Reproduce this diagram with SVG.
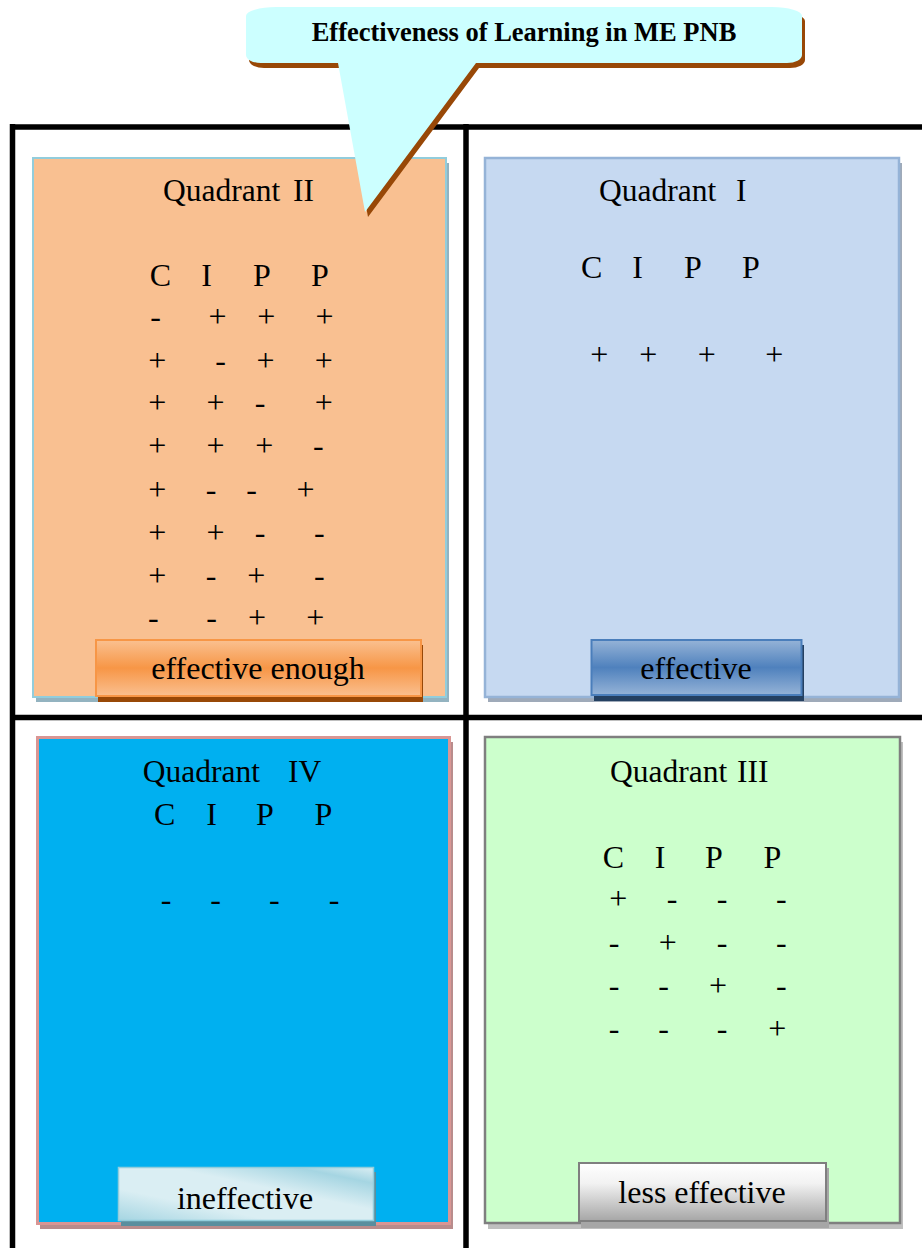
<svg xmlns="http://www.w3.org/2000/svg" width="922" height="1248" viewBox="0 0 922 1248">
<defs>
<style>
.t{font-family:"Liberation Serif","Times New Roman",serif;font-size:32px;fill:#000;}
.q{font-family:"Liberation Serif","Times New Roman",serif;font-size:31.5px;fill:#000;}
.m{text-anchor:middle;}
.title{font-family:"Liberation Serif","Times New Roman",serif;font-size:26.5px;font-weight:bold;fill:#000;text-anchor:middle;}
.grid{stroke:#000;stroke-width:5.5;fill:none;}
</style>
<linearGradient id="gOrange" x1="0" y1="0" x2="0" y2="1">
<stop offset="0" stop-color="#FAC090"/><stop offset="0.5" stop-color="#F79646"/><stop offset="1" stop-color="#FAC090"/>
</linearGradient>
<linearGradient id="gBlue" x1="0" y1="0" x2="0" y2="1">
<stop offset="0" stop-color="#95B3D7"/><stop offset="0.5" stop-color="#4F81BD"/><stop offset="1" stop-color="#95B3D7"/>
</linearGradient>
<linearGradient id="gCyan" x1="0" y1="1" x2="1" y2="0">
<stop offset="0" stop-color="#A5D5E2"/><stop offset="0.3" stop-color="#DAEEF3"/><stop offset="0.6" stop-color="#DAEEF3"/><stop offset="0.85" stop-color="#A5D5E2"/><stop offset="1" stop-color="#DAEEF3"/>
</linearGradient>
<linearGradient id="gGrey" x1="0" y1="0" x2="0" y2="1">
<stop offset="0" stop-color="#FFFFFF"/><stop offset="0.35" stop-color="#F2F2F2"/><stop offset="1" stop-color="#A6A6A6"/>
</linearGradient>
</defs>
<rect width="922" height="1248" fill="#fff"/>

<g id="grid">
<line class="grid" x1="10" y1="127" x2="922" y2="127"/>
<line class="grid" x1="12.5" y1="124" x2="12.5" y2="1248"/>
<line class="grid" x1="466" y1="124" x2="466" y2="1248"/>
<line class="grid" x1="10" y1="717.5" x2="922" y2="717.5" stroke-width="6"/>
</g>

<g id="connectors"></g>

<g id="q2">
<rect x="36" y="163" width="413" height="539" fill="#93B3C0"/>
<rect x="33" y="158" width="413" height="539" fill="#F9C091" stroke="#92CDDC" stroke-width="2"/>
<text class="q" x="163" y="201">Quadrant<tspan x="293">II</tspan></text>
<text class="t m" y="286"><tspan x="160.5">C</tspan><tspan x="206.5">I</tspan><tspan x="262">P</tspan><tspan x="320">P</tspan></text>
<text class="t m" y="327"><tspan x="155.7">-</tspan><tspan x="217.5">+</tspan><tspan x="266.3">+</tspan><tspan x="324.5">+</tspan></text>
<text class="t m" y="371"><tspan x="157.2">+</tspan><tspan x="220.5">-</tspan><tspan x="265.5">+</tspan><tspan x="323.8">+</tspan></text>
<text class="t m" y="413"><tspan x="157.2">+</tspan><tspan x="215.5">+</tspan><tspan x="260">-</tspan><tspan x="323.8">+</tspan></text>
<text class="t m" y="456"><tspan x="157.2">+</tspan><tspan x="215.5">+</tspan><tspan x="264.2">+</tspan><tspan x="318.3">-</tspan></text>
<text class="t m" y="500"><tspan x="157.2">+</tspan><tspan x="211">-</tspan><tspan x="251.7">-</tspan><tspan x="305.5">+</tspan></text>
<text class="t m" y="543"><tspan x="157.2">+</tspan><tspan x="215.5">+</tspan><tspan x="260">-</tspan><tspan x="319.3">-</tspan></text>
<text class="t m" y="586"><tspan x="157.2">+</tspan><tspan x="211">-</tspan><tspan x="256.3">+</tspan><tspan x="319.3">-</tspan></text>
<text class="t m" y="628"><tspan x="153.3">-</tspan><tspan x="211.7">-</tspan><tspan x="257">+</tspan><tspan x="315.3">+</tspan></text>
</g>

<g id="label-effective-enough">
<rect x="98" y="645" width="325" height="57" fill="#984807"/>
<rect x="96" y="640" width="325" height="56" fill="url(#gOrange)" stroke="#F79646" stroke-width="2"/>
<text class="t m" x="258" y="679">effective enough</text>
</g>

<g id="q1">
<rect x="488" y="163" width="414" height="539" fill="#9FAAB9"/>
<rect x="485" y="158" width="414" height="539" fill="#C6D9F1" stroke="#95B3D7" stroke-width="2.5"/>
<text class="q" x="599" y="201">Quadrant<tspan x="736">I</tspan></text>
<text class="t m" y="278"><tspan x="591.7">C</tspan><tspan x="637.5">I</tspan><tspan x="693">P</tspan><tspan x="751">P</tspan></text>
<text class="t m" y="365"><tspan x="599.3">+</tspan><tspan x="648.3">+</tspan><tspan x="706.7">+</tspan><tspan x="774.3">+</tspan></text>
</g>

<g id="label-effective">
<rect x="594" y="645" width="210" height="56" fill="#244061"/>
<rect x="591.5" y="640" width="210" height="55" fill="url(#gBlue)" stroke="#4A7EBB" stroke-width="2"/>
<text class="t m" x="696" y="679">effective</text>
</g>

<g id="q4">
<rect x="40" y="742" width="413" height="487" fill="#B98C8C"/>
<rect x="37.5" y="737.5" width="412" height="486" fill="#00B0F0" stroke="#D99694" stroke-width="3"/>
<text class="q" x="142.7" y="782">Quadrant<tspan x="288">IV</tspan></text>
<text class="t m" y="825"><tspan x="164.7">C</tspan><tspan x="211.7">I</tspan><tspan x="265">P</tspan><tspan x="323.3">P</tspan></text>
<text class="t m" y="910"><tspan x="166">-</tspan><tspan x="215.7">-</tspan><tspan x="274.3">-</tspan><tspan x="334">-</tspan></text>
</g>

<g id="label-ineffective">
<rect x="121" y="1172" width="255" height="54" fill="#5A8E9E"/>
<rect x="118.5" y="1167.5" width="255" height="53" fill="url(#gCyan)" stroke="#92CDDC" stroke-width="1.5"/>
<text class="t m" x="245" y="1209">ineffective</text>
</g>

<g id="q3">
<rect x="488" y="742" width="415" height="487" fill="#BFBFBF"/>
<rect x="485" y="737" width="415" height="486" fill="#CCFFCC" stroke="#7F7F7F" stroke-width="2.5"/>
<text class="q" x="610" y="782">Quadrant<tspan x="737">III</tspan></text>
<text class="t m" y="868"><tspan x="613.3">C</tspan><tspan x="660">I</tspan><tspan x="714">P</tspan><tspan x="772.3">P</tspan></text>
<text class="t m" y="909"><tspan x="618.3">+</tspan><tspan x="672.2">-</tspan><tspan x="722">-</tspan><tspan x="781.3">-</tspan></text>
<text class="t m" y="953"><tspan x="614">-</tspan><tspan x="667.8">+</tspan><tspan x="722">-</tspan><tspan x="781.3">-</tspan></text>
<text class="t m" y="996"><tspan x="614">-</tspan><tspan x="663.7">-</tspan><tspan x="718">+</tspan><tspan x="781.3">-</tspan></text>
<text class="t m" y="1039"><tspan x="614">-</tspan><tspan x="663.7">-</tspan><tspan x="722">-</tspan><tspan x="777.2">+</tspan></text>
</g>

<g id="label-less-effective">
<rect x="581" y="1168" width="248" height="60" fill="#A6A6A6"/>
<rect x="579" y="1163" width="247" height="58" fill="url(#gGrey)" stroke="#7F7F7F" stroke-width="2"/>
<text class="t m" x="702" y="1203">less effective</text>
</g>

<g id="callout">
<path d="M276,7 L772,7 A30,9 0 0 1 802,16 L802,55 A15,8 0 0 1 787,63 L476,63 L365,212 L338,63 L261,63 A15,8 0 0 1 246,55 L246,16 A30,9 0 0 1 276,7 Z" fill="#984807" transform="translate(3,5)"/>
<path d="M276,7 L772,7 A30,9 0 0 1 802,16 L802,55 A15,8 0 0 1 787,63 L476,63 L365,212 L338,63 L261,63 A15,8 0 0 1 246,55 L246,16 A30,9 0 0 1 276,7 Z" fill="#CCFFFF"/>
<text class="title" x="524" y="41">Effectiveness of Learning in ME PNB</text>
</g>
</svg>
